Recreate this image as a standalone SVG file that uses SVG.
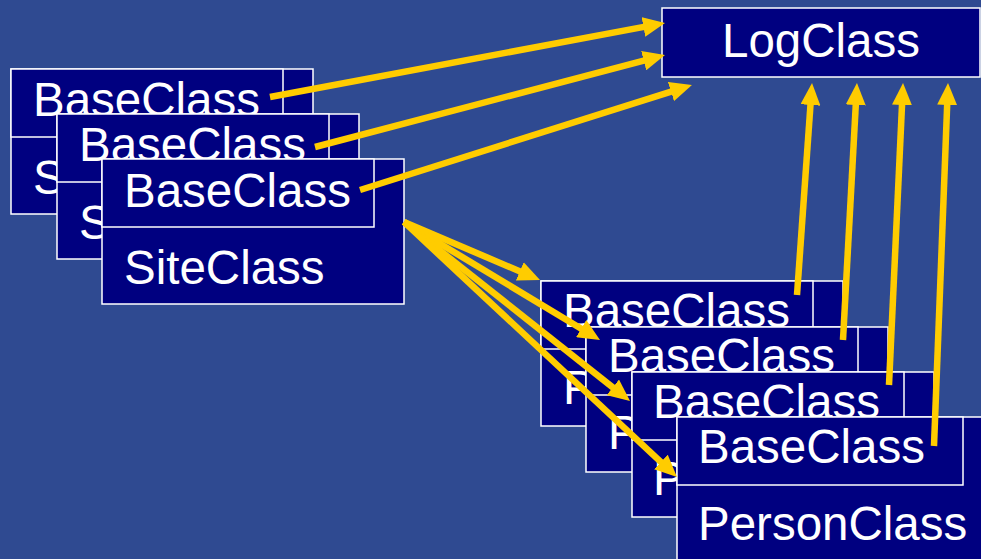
<svg xmlns="http://www.w3.org/2000/svg" width="981" height="559" viewBox="0 0 981 559">
  <style>
    .box { fill: #000080; stroke: #ffffff; stroke-width: 1.5; }
    .lbl { fill: #ffffff; font-family: "Liberation Sans", Arial, sans-serif; font-size: 47.5px; }
    .arr { stroke: #ffcc00; stroke-width: 6.5; fill: none; marker-end: url(#head); }
  </style>
  <defs>
    <marker id="head" markerUnits="userSpaceOnUse" viewBox="0 0 22 20" markerWidth="22" markerHeight="20" refX="6" refY="10" orient="auto">
      <path d="M0,0 L22,10 L0,20 Z" fill="#ffcc00"/>
    </marker>
  </defs>
  <rect width="981" height="559" fill="#2f4a91"/>

  <g id="logclass">
    <rect class="box" x="662" y="8" width="318" height="69"/>
    <text class="lbl" x="821" y="57" text-anchor="middle">LogClass</text>
  </g>

  <g id="site1">
    <rect class="box" x="11" y="69" width="302" height="145"/>
    <rect class="box" x="11" y="69" width="272" height="68"/>
    <text class="lbl" x="33" y="116">BaseClass</text>
    <text class="lbl" x="33" y="194">SiteClass</text>
  </g>
  <g id="site2">
    <rect class="box" x="57" y="114" width="302" height="145"/>
    <rect class="box" x="57" y="114" width="272" height="68"/>
    <text class="lbl" x="79" y="161">BaseClass</text>
    <text class="lbl" x="79" y="239">SiteClass</text>
  </g>
  <g id="site3">
    <rect class="box" x="102" y="159" width="302" height="145"/>
    <rect class="box" x="102" y="159" width="272" height="68"/>
    <text class="lbl" x="124" y="207">BaseClass</text>
    <text class="lbl" x="124" y="284">SiteClass</text>
  </g>

  <g id="person1">
    <rect class="box" x="541" y="281" width="302" height="145"/>
    <rect class="box" x="541" y="281" width="272" height="68"/>
    <text class="lbl" x="563" y="327">BaseClass</text>
    <text class="lbl" x="563" y="404">PersonClass</text>
  </g>
  <g id="person2">
    <rect class="box" x="586" y="327" width="302" height="145"/>
    <rect class="box" x="586" y="327" width="272" height="68"/>
    <text class="lbl" x="608" y="372">BaseClass</text>
    <text class="lbl" x="608" y="449">PersonClass</text>
  </g>
  <g id="person3">
    <rect class="box" x="632" y="372" width="302" height="145"/>
    <rect class="box" x="632" y="372" width="272" height="68"/>
    <text class="lbl" x="653" y="418">BaseClass</text>
    <text class="lbl" x="653" y="495">PersonClass</text>
  </g>
  <g id="person4">
    <rect class="box" x="677" y="417" width="320" height="160"/>
    <rect class="box" x="677" y="417" width="286" height="68"/>
    <text class="lbl" x="698" y="463">BaseClass</text>
    <text class="lbl" x="698" y="540">PersonClass</text>
  </g>

  <g id="connectors">
    <!-- base classes to the log -->
    <line class="arr" x1="270" y1="97" x2="649.3" y2="25.9"/>
    <line class="arr" x1="315" y1="147" x2="649.5" y2="59.1"/>
    <line class="arr" x1="360" y1="190" x2="676.7" y2="89.8"/>
    <!-- site to persons -->
    <line class="arr" x1="404" y1="222" x2="525.3" y2="273.7"/>
    <line class="arr" x1="404" y1="222" x2="586.3" y2="331.7"/>
    <line class="arr" x1="404" y1="222" x2="617.5" y2="391.1"/>
    <line class="arr" x1="404" y1="222" x2="665.3" y2="466.1"/>
    <!-- person base classes up to the log -->
    <line class="arr" x1="797" y1="295" x2="810.9" y2="99"/>
    <line class="arr" x1="843" y1="340" x2="856.1" y2="99"/>
    <line class="arr" x1="889" y1="385" x2="902.3" y2="99"/>
    <line class="arr" x1="934" y1="446" x2="947.4" y2="99"/>
  </g>
</svg>
